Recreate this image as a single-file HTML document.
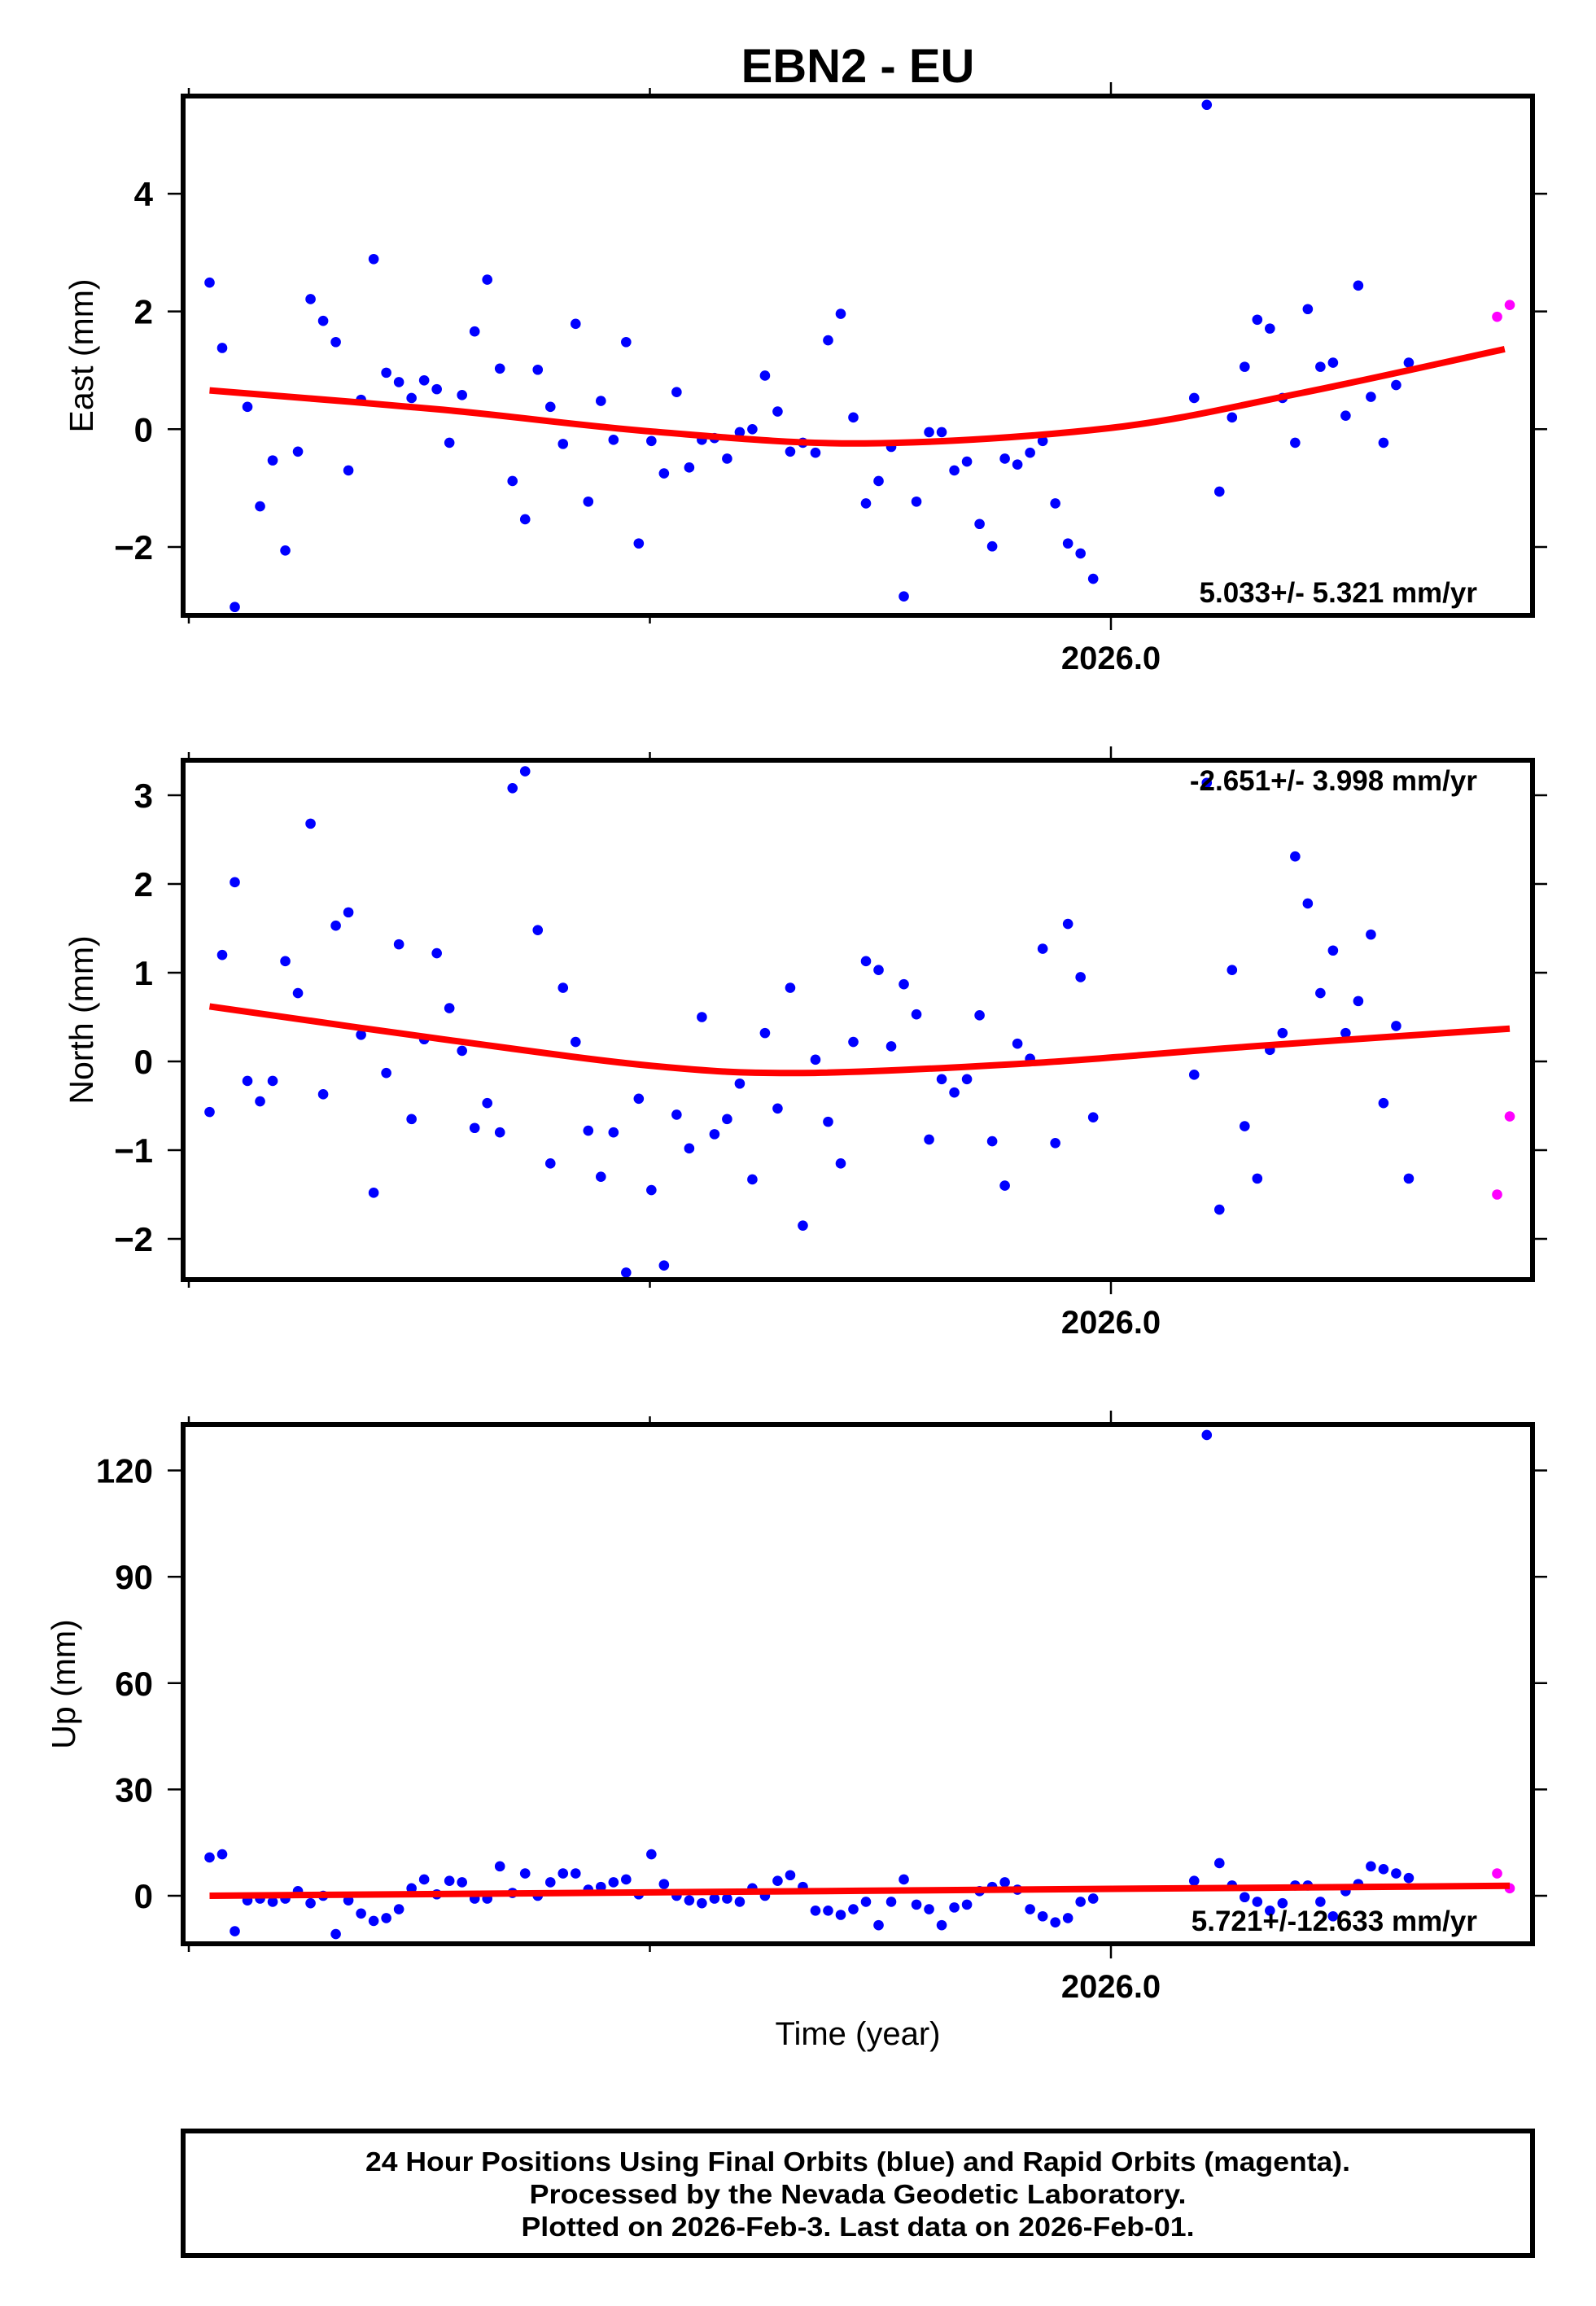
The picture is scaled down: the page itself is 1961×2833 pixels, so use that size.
<!DOCTYPE html>
<html><head><meta charset="utf-8"><title>EBN2 - EU</title>
<style>
html,body{margin:0;padding:0;background:#fff;}
svg{display:block;}
text{font-family:"Liberation Sans",Arial,sans-serif;}
</style></head>
<body>
<svg id="chart" xmlns="http://www.w3.org/2000/svg" width="1961" height="2833" viewBox="0 0 1961 2833">
<rect width="1961" height="2833" fill="#fff"/>
<text x="1054" y="101" text-anchor="middle" font-size="58" font-weight="bold">EBN2 - EU</text>
<g id="plots"></g>
<text x="1054" y="2512" text-anchor="middle" font-size="40">Time (year)</text>
<rect x="225" y="2618" width="1658" height="153" fill="none" stroke="#000" stroke-width="6"/>
<text x="1054" y="2667" text-anchor="middle" font-size="33" font-weight="bold" textLength="1210" lengthAdjust="spacingAndGlyphs">24 Hour Positions Using Final Orbits (blue) and Rapid Orbits (magenta).</text>
<text x="1054" y="2707" text-anchor="middle" font-size="33" font-weight="bold" textLength="807" lengthAdjust="spacingAndGlyphs">Processed by the Nevada Geodetic Laboratory.</text>
<text x="1054" y="2747" text-anchor="middle" font-size="33" font-weight="bold" textLength="827" lengthAdjust="spacingAndGlyphs">Plotted on 2026-Feb-3. Last data on 2026-Feb-01.</text>
</svg>
<script>
// ---- data ----
const startYear = 2025.8045;
const finalDays = [0,1,2,3,4,5,6,7,8,9,10,11,12,13,14,15,16,17,18,19,20,21,22,23,24,25,26,27,28,29,30,31,32,33,34,35,36,37,38,39,40,41,42,43,44,45,46,47,48,49,50,51,52,53,54,55,56,57,58,59,60,61,62,63,64,65,66,67,68,69,70,78,79,80,81,82,83,84,85,86,87,88,89,90,91,92,93,94,95];
const rapidDays = [102,103];
const eastFinal = [2.49,1.38,-3.02,0.38,-1.31,-0.53,-2.06,-0.38,2.21,1.84,1.48,-0.70,0.50,2.89,0.96,0.80,0.53,0.83,0.68,-0.23,0.58,1.66,2.54,1.03,-0.88,-1.53,1.01,0.38,-0.25,1.79,-1.23,0.48,-0.18,1.48,-1.94,-0.20,-0.75,0.63,-0.65,-0.18,-0.15,-0.50,-0.05,0,0.91,0.30,-0.38,-0.23,-0.40,1.51,1.96,0.20,-1.26,-0.88,-0.30,-2.84,-1.23,-0.05,-0.05,-0.70,-0.55,-1.61,-1.99,-0.50,-0.60,-0.40,-0.20,-1.26,-1.94,-2.11,-2.54,0.53,5.51,-1.06,0.20,1.06,1.86,1.71,0.53,-0.23,2.04,1.06,1.13,0.23,2.44,0.55,-0.23,0.75,1.13];
const eastRapid = [1.91,2.11];
const northFinal = [-0.57,1.20,2.02,-0.22,-0.45,-0.22,1.13,0.77,2.68,-0.37,1.53,1.68,0.30,-1.48,-0.13,1.32,-0.65,0.25,1.22,0.60,0.12,-0.75,-0.47,-0.80,3.08,3.27,1.48,-1.15,0.83,0.22,-0.78,-1.30,-0.80,-2.38,-0.42,-1.45,-2.30,-0.60,-0.98,0.50,-0.82,-0.65,-0.25,-1.33,0.32,-0.53,0.83,-1.85,0.02,-0.68,-1.15,0.22,1.13,1.03,0.17,0.87,0.53,-0.88,-0.20,-0.35,-0.20,0.52,-0.90,-1.40,0.20,0.03,1.27,-0.92,1.55,0.95,-0.63,-0.15,3.14,-1.67,1.03,-0.73,-1.32,0.13,0.32,2.31,1.78,0.77,1.25,0.32,0.68,1.43,-0.47,0.40,-1.32];
const northRapid = [-1.50,-0.62];
const upFinal = [10.8,11.7,-10,-1.3,-0.8,-1.7,-0.8,1.3,-2.1,0,-10.8,-1.3,-5,-7.1,-6.3,-3.8,2.1,4.6,0.4,4.2,3.8,-0.8,-0.8,8.3,0.8,6.3,0,3.8,6.3,6.3,1.7,2.5,3.8,4.6,0.4,11.7,3.3,0,-1.3,-2.1,-0.8,-0.8,-1.7,2.1,0,4.2,5.8,2.5,-4.2,-4.2,-5.4,-3.8,-1.7,-8.3,-1.7,4.6,-2.5,-3.8,-8.3,-3.3,-2.5,1.3,2.5,3.8,1.7,-3.8,-5.8,-7.5,-6.3,-1.7,-0.8,4.2,130,9.2,2.9,-0.4,-1.7,-4.2,-2.1,2.9,2.9,-1.7,-5.8,1.3,3.3,8.3,7.5,6.3,5.0];
const upRapid = [6.3,2.1];
const eastFitDays = [0,18.5,35.1,51.9,71.3,86.6,102.6];
const eastFitVals = [0.66,0.33,-0.04,-0.24,0.02,0.62,1.36];
const northFitDays = [0,18.5,35.1,47,65,82.6,103];
const northFitVals = [0.62,0.25,-0.05,-0.13,-0.02,0.17,0.37];
const upFitDays = [0,103];
const upFitVals = [0,2.8];
const eastTicks = [-2,0,2,4];
const northTicks = [-2,-1,0,1,2,3];
const upTicks = [0,30,60,90,120];
const xTickYears = [2025.8,2025.9,2026.0];
const xTickLabels = ["","","2026.0"];
const rateLabels = ["5.033+/- 5.321 mm/yr","-2.651+/- 3.998 mm/yr","5.721+/-12.633 mm/yr"];

// ---- layout ----
const NS="http://www.w3.org/2000/svg";
const PL=225, PR=1883;
const xYear = y => 1365 + (y-2026.0)*5665;
const xDay = d => xYear(startYear + d/365.25);
const panels = [
  {key:"east", title:"East (mm)", top:118, bottom:756, y0:527.3, ppu:72.33, ticks:eastTicks, fin:eastFinal, rap:eastRapid, fd:eastFitDays, fv:eastFitVals, rate:rateLabels[0], rateTop:false, titleX:100},
  {key:"north", title:"North (mm)", top:934, bottom:1572, y0:1304, ppu:109, ticks:northTicks, fin:northFinal, rap:northRapid, fd:northFitDays, fv:northFitVals, rate:rateLabels[1], rateTop:true, titleX:100},
  {key:"up", title:"Up (mm)", top:1750, bottom:2388, y0:2329, ppu:4.354, ticks:upTicks, fin:upFinal, rap:upRapid, fd:upFitDays, fv:upFitVals, rate:rateLabels[2], rateTop:false, titleX:78}
];
const root=document.getElementById('plots');
function mk(tag, attrs, parent){const e=document.createElementNS(NS,tag);for(const k in attrs)e.setAttribute(k,attrs[k]);(parent||root).appendChild(e);return e;}

panels.forEach(p=>{
  const g=mk('g',{});
  
  
  const yv = v => p.y0 - v*p.ppu;
  const clipId='clip-'+p.key;
  const cp=mk('clipPath',{id:clipId},g);
  mk('rect',{x:PL,y:p.top,width:PR-PL,height:p.bottom-p.top},cp);
  p.ticks.forEach(v=>{
    const y=yv(v);
    const l=mk('line',{x1:206,x2:PL,y1:y,y2:y,stroke:'#000','stroke-width':2.5},g);
    
    
    const r=mk('line',{x1:PR,x2:1901,y1:y,y2:y,stroke:'#000','stroke-width':2.5},g);
    
    
    const t=mk('text',{x:188,y:y+15,'text-anchor':'end','font-size':42,'font-weight':'bold'},g);
    t.textContent = v<0 ? '\u2212'+Math.abs(v) : String(v);
    
    
  });
  xTickYears.forEach((yr,i)=>{
    const x=xYear(yr);
    const major = xTickLabels[i]!=="";
    const tl=mk('line',{x1:x,x2:x,y1:p.top-(major?17:10),y2:p.top,stroke:'#000','stroke-width':2.5},g);
    
    
    const bl=mk('line',{x1:x,x2:x,y1:p.bottom,y2:p.bottom+(major?18:10),stroke:'#000','stroke-width':2.5},g);
    
    
    if(major){
      const t=mk('text',{x:x,y:p.bottom+66,'text-anchor':'middle','font-size':40,'font-weight':'bold'},g);
      t.textContent=xTickLabels[i];
      
      
    }
  });
  const cy=(p.top+p.bottom)/2;
  const at=mk('text',{x:p.titleX+14,y:cy,'text-anchor':'middle','font-size':41,transform:`rotate(-90 ${p.titleX+14} ${cy})`},g);
  at.textContent=p.title;
  
  
  const dg=mk('g',{'clip-path':`url(#${clipId})`},g);
  p.fin.forEach((v,i)=>{
    const c=mk('circle',{cx:xDay(finalDays[i]),cy:yv(v),r:6.3,fill:'#0000ff'},dg);
    
    
  });
  p.rap.forEach((v,i)=>{
    const c=mk('circle',{cx:xDay(rapidDays[i]),cy:yv(v),r:6.3,fill:'#ff00ff'},dg);
    
    
  });
  const pts=p.fd.map((d,i)=>[xDay(d),yv(p.fv[i])]);
  let d='M'+pts[0][0].toFixed(1)+','+pts[0][1].toFixed(1);
  for(let i=0;i<pts.length-1;i++){
    const p0=pts[Math.max(0,i-1)],p1=pts[i],p2=pts[i+1],p3=pts[Math.min(pts.length-1,i+2)];
    const c1=[p1[0]+(p2[0]-p0[0])/6,p1[1]+(p2[1]-p0[1])/6];
    const c2=[p2[0]-(p3[0]-p1[0])/6,p2[1]-(p3[1]-p1[1])/6];
    d+=` C${c1[0].toFixed(1)},${c1[1].toFixed(1)} ${c2[0].toFixed(1)},${c2[1].toFixed(1)} ${p2[0].toFixed(1)},${p2[1].toFixed(1)}`;
  }
  const fit=mk('path',{d:d,fill:'none',stroke:'#ff0000','stroke-width':8},dg);
  
  
  const rt=mk('text',{x:1815,y:p.rateTop?p.top+37:p.bottom-16,'text-anchor':'end','font-size':35,'font-weight':'bold'},g);
  rt.textContent=p.rate;
  
  
  const fr=mk('rect',{x:PL,y:p.top,width:PR-PL,height:p.bottom-p.top,fill:'none',stroke:'#000','stroke-width':6},g);
  
  
});
</script>
</body></html>
